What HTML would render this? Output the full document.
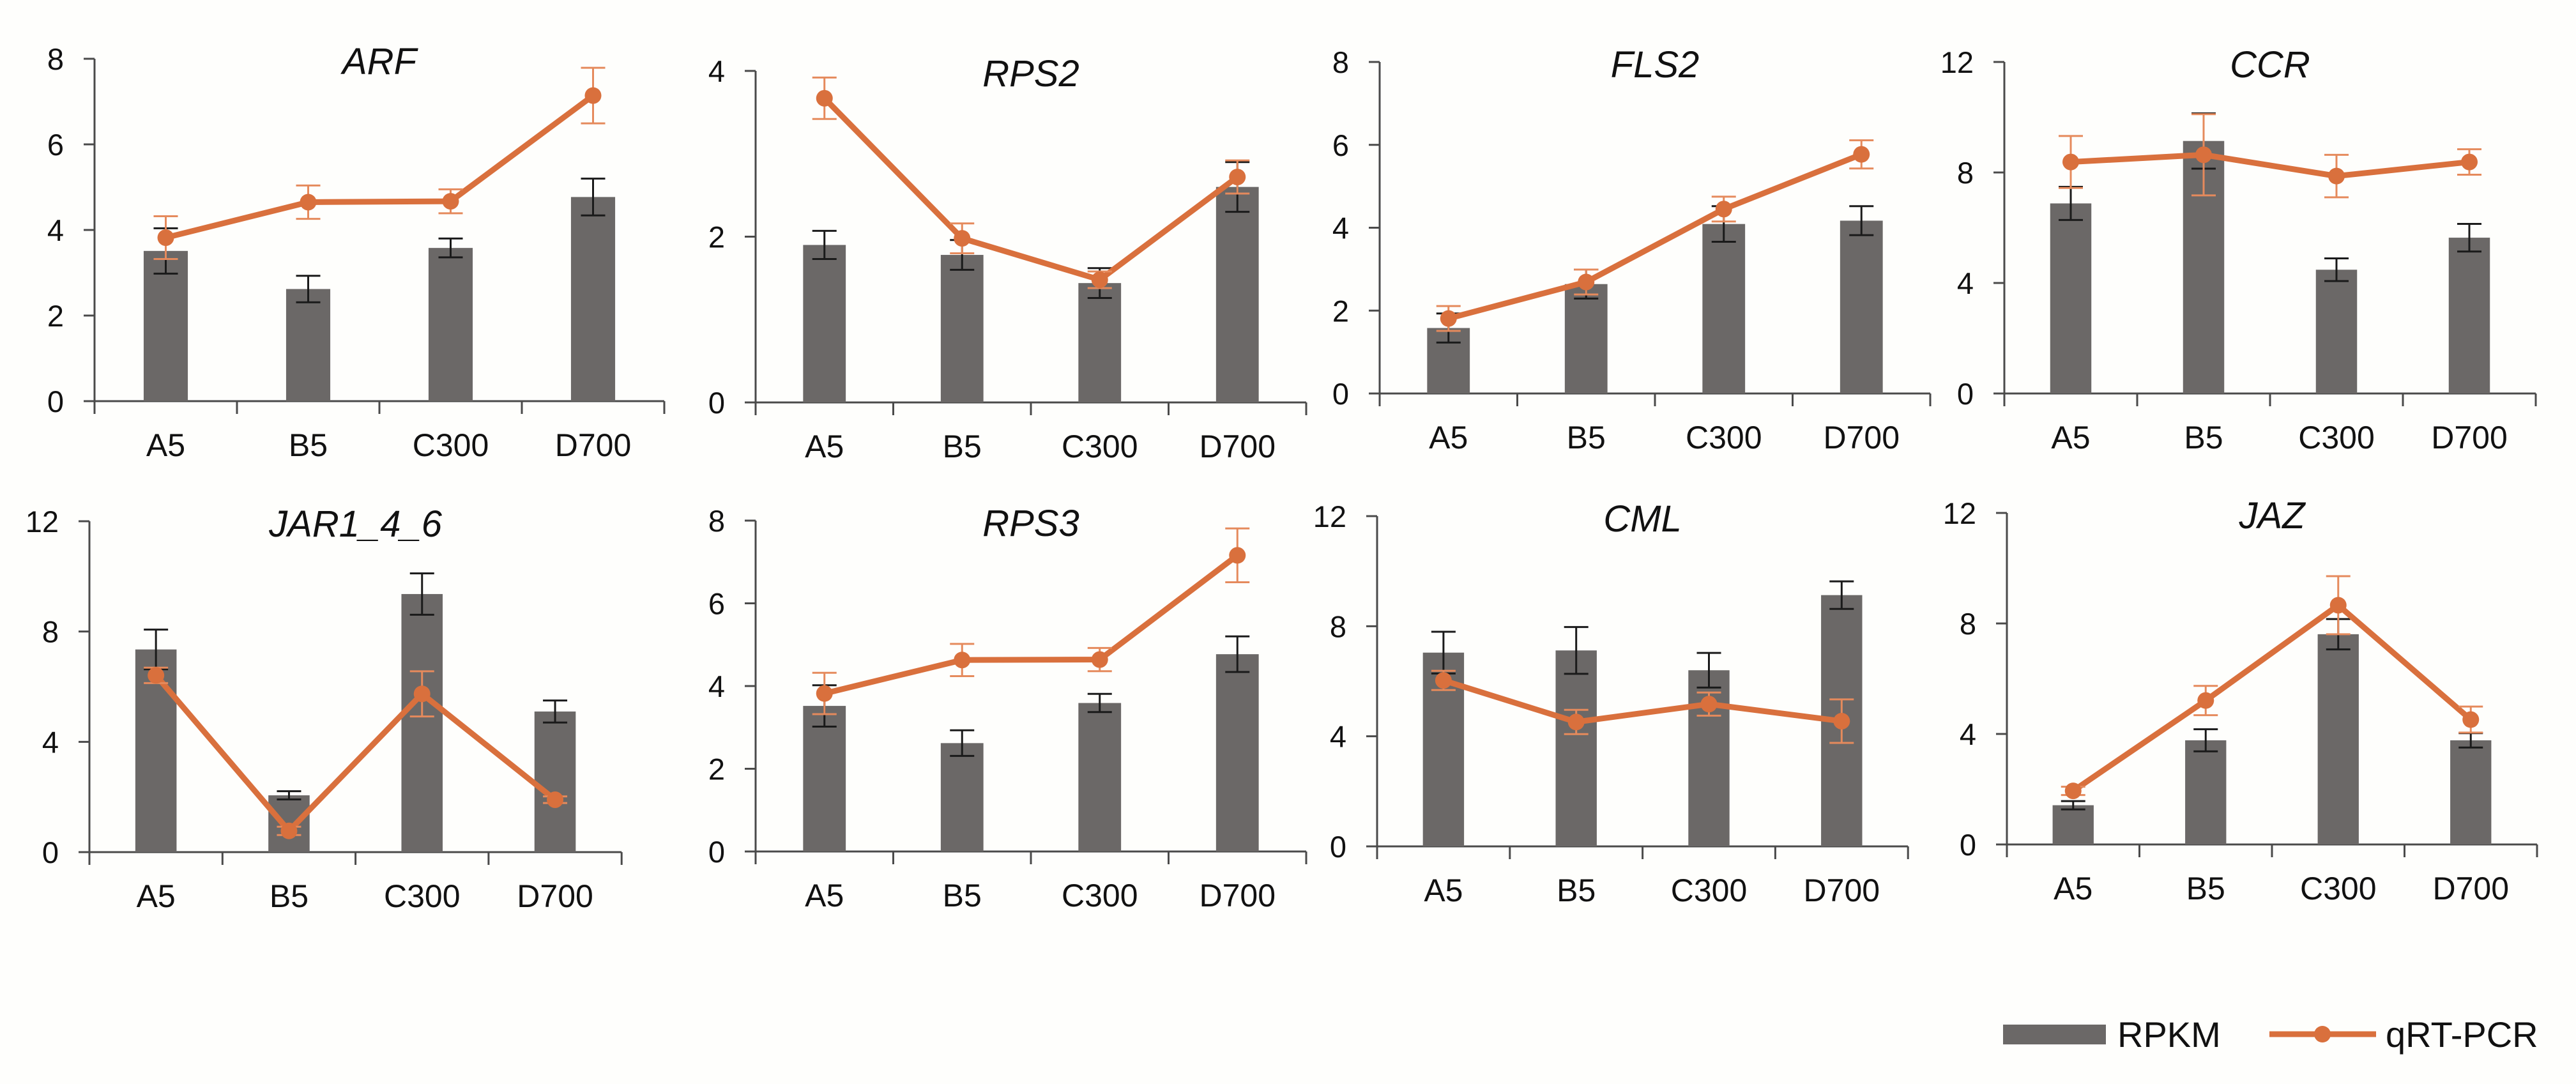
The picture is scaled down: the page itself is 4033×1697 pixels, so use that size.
<!DOCTYPE html>
<html><head><meta charset="utf-8">
<style>
html,body{margin:0;padding:0;background:#fefefc;}
svg{display:block;}
text{font-family:"Liberation Sans",Arial,sans-serif;fill:#111;}
</style></head>
<body>
<svg id="chart" width="4033" height="1697" viewBox="0 0 4033 1697" xmlns="http://www.w3.org/2000/svg">
<rect width="4033" height="1697" fill="#fefefc"/>
<g id="legend">
  <rect x="3136" y="1604" width="161" height="31" fill="#6b6867"/>
  <text x="3315" y="1639" font-size="56">RPKM</text>
  <line x1="3553" y1="1619" x2="3720" y2="1619" stroke="#d9703d" stroke-width="9"/>
  <circle cx="3636" cy="1619" r="13" fill="#d9703d"/>
  <text x="3735" y="1639" font-size="56">qRT-PCR</text>
</g>
</svg>
<script>
const categories = ["A5","B5","C300","D700"];
const genes = ["ARF","RPS2","FLS2","CCR","JAR1_4_6","RPS3","CML","JAZ"];
const axisMax = [8,4,8,12,12,8,12,12];
const axisStep = [2,2,2,4,4,2,4,4];
const rpkm = [
 [3.51,2.62,3.58,4.77],
 [1.90,1.78,1.44,2.60],
 [1.58,2.64,4.09,4.17],
 [6.88,9.14,4.48,5.64],
 [7.35,2.06,9.36,5.10],
 [3.52,2.62,3.59,4.77],
 [7.04,7.12,6.40,9.13],
 [1.42,3.77,7.61,3.77]
];
const rpkmErr = [
 [0.53,0.31,0.22,0.43],
 [0.17,0.18,0.18,0.30],
 [0.35,0.35,0.43,0.35],
 [0.60,1.00,0.41,0.50],
 [0.72,0.15,0.75,0.40],
 [0.50,0.31,0.22,0.43],
 [0.76,0.85,0.63,0.50],
 [0.15,0.40,0.55,0.26]
];
const qpcr = [
 [3.82,4.65,4.67,7.14],
 [3.67,1.98,1.48,2.72],
 [1.81,2.69,4.45,5.77],
 [8.38,8.64,7.87,8.38],
 [6.41,0.77,5.74,1.90],
 [3.82,4.63,4.64,7.16],
 [6.03,4.52,5.17,4.55],
 [1.94,5.21,8.66,4.52]
];
const qpcrErr = [
 [0.50,0.39,0.28,0.65],
 [0.25,0.18,0.10,0.20],
 [0.30,0.30,0.30,0.34],
 [0.94,1.47,0.77,0.46],
 [0.28,0.15,0.82,0.12],
 [0.50,0.39,0.28,0.65],
 [0.35,0.44,0.42,0.79],
 [0.15,0.53,1.05,0.47]
];
</script>
<script>
(function(){
const NS="http://www.w3.org/2000/svg";
const svg=document.getElementById('chart');
// layout: axis x, category spacing, top tick y, zero y
const layout=[
 [148,223,92,628],[1183,215.5,111,630],[2160,215.5,97,616],[3138,208,97,616],
 [140,208.3,816,1334],[1183,215.5,815,1333],[2156,207.8,808,1325],[3142,207.5,803,1322]
];
function mk(tag,attrs,parent){const e=document.createElementNS(NS,tag);for(const k in attrs)e.setAttribute(k,attrs[k]);parent.appendChild(e);return e;}
const AX="#4a4a4a", BAR="#6b6867", OR="#d9703d";
genes.forEach((g,p)=>{
  const [ax,sp,yt,y0]=layout[p];
  const max=axisMax[p];
  const yS=v=>y0-(v/max)*(y0-yt);
  const xC=i=>ax+sp*(i+0.5);
  const grp=mk('g',{},svg);
  
  
  // title
  const t=mk('text',{x:ax+sp*2,y:yt+24,'font-size':58,'font-style':'italic','text-anchor':'middle'},grp);
  t.textContent=g;
  
  
  // y axis
  const ya=mk('line',{x1:ax,y1:yt,x2:ax,y2:y0,stroke:AX,'stroke-width':3},grp);
  
  
  for(let v=0;v<=max;v+=axisStep[p]){
    const y=yS(v);
    mk('line',{x1:ax-17,y1:y,x2:ax,y2:y,stroke:AX,'stroke-width':3},grp);
    const tl=mk('text',{x:ax-48,y:y+17,'font-size':47,'text-anchor':'end'},grp);
    tl.textContent=v;
    
    
  }
  // x axis
  const xa=mk('line',{x1:ax-17,y1:y0,x2:ax+sp*4,y2:y0,stroke:AX,'stroke-width':3},grp);
  
  
  for(let i=0;i<=4;i++){
    mk('line',{x1:ax+sp*i,y1:y0,x2:ax+sp*i,y2:y0+20,stroke:AX,'stroke-width':3},grp);
  }
  const bw=sp*0.31;
  categories.forEach((c,i)=>{
    const cl=mk('text',{x:xC(i),y:y0+86,'font-size':50,'text-anchor':'middle'},grp);
    cl.textContent=c;
    
    
    const v=rpkm[p][i];
    const b=mk('rect',{x:xC(i)-bw/2,y:yS(v),width:bw,height:y0-yS(v),fill:BAR},grp);
    
    
    const e=rpkmErr[p][i], cw=19;
    const eg=mk('g',{stroke:'#1a1a1a','stroke-width':3},grp);
    
    
    mk('line',{x1:xC(i),y1:yS(v+e),x2:xC(i),y2:yS(v-e)},eg);
    mk('line',{x1:xC(i)-cw,y1:yS(v+e),x2:xC(i)+cw,y2:yS(v+e)},eg);
    mk('line',{x1:xC(i)-cw,y1:yS(v-e),x2:xC(i)+cw,y2:yS(v-e)},eg);
  });
  // qRT-PCR line
  const pts=qpcr[p].map((v,i)=>xC(i)+','+yS(v)).join(' ');
  const pl=mk('polyline',{points:pts,fill:'none',stroke:OR,'stroke-width':9,'stroke-linejoin':'round'},grp);
  
  
  qpcr[p].forEach((v,i)=>{
    const e=qpcrErr[p][i], cw=19;
    const eg=mk('g',{stroke:'#e58a5c','stroke-width':3},grp);
    
    
    mk('line',{x1:xC(i),y1:yS(v+e),x2:xC(i),y2:yS(v-e)},eg);
    mk('line',{x1:xC(i)-cw,y1:yS(v+e),x2:xC(i)+cw,y2:yS(v+e)},eg);
    mk('line',{x1:xC(i)-cw,y1:yS(v-e),x2:xC(i)+cw,y2:yS(v-e)},eg);
    const m=mk('circle',{cx:xC(i),cy:yS(v),r:13,fill:OR},grp);
    
    
  });
});
})();
</script>
</body></html>
